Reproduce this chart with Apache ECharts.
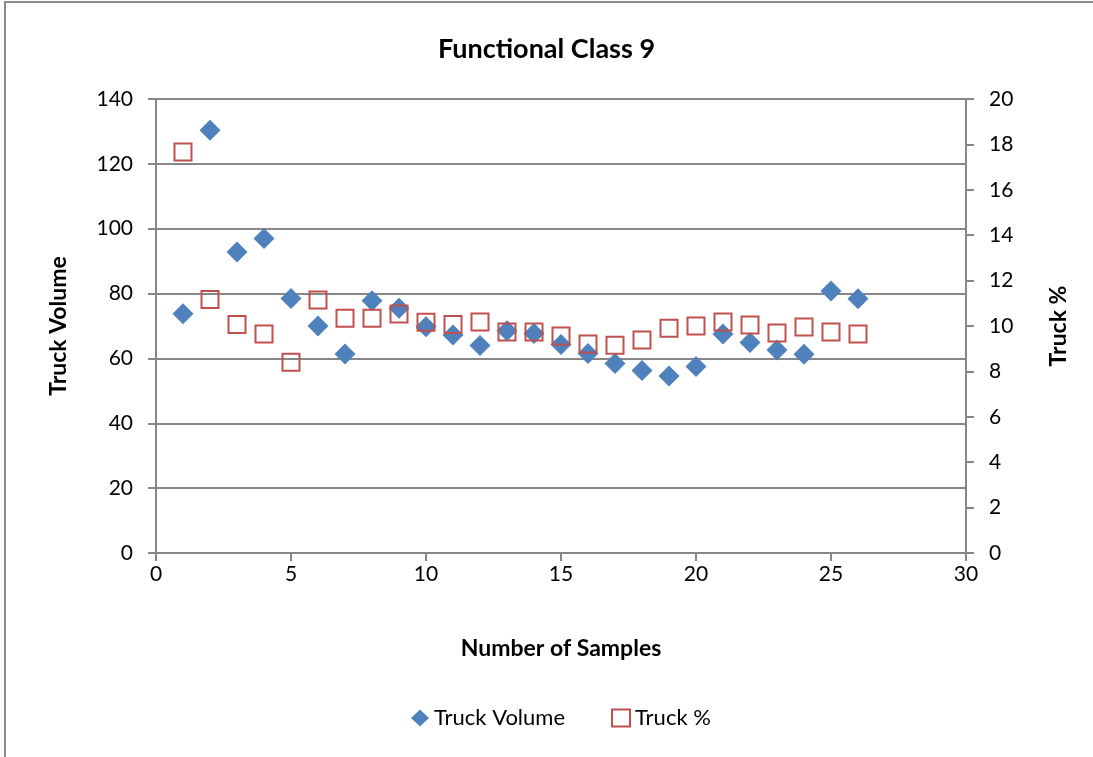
<!DOCTYPE html>
<html>
<head>
<meta charset="utf-8">
<script src="https://cdn.jsdelivr.net/npm/echarts@6/dist/echarts.min.js"></script>
<style>
  html, body { margin: 0; padding: 0; background: #fff; overflow: hidden; }
  #frame { position: absolute; left: 4px; top: 1px; width: 1200px; height: 900px; border: 2px solid #8a8a8a; box-sizing: border-box; }
  #chart { position: absolute; left: 0; top: 0; width: 1093px; height: 757px; }
</style>
</head>
<body>
<div id="frame"></div>
<div id="chart"></div>
<script>
// Sample index along the x axis
const samples = [1,2,3,4,5,6,7,8,9,10,11,12,13,14,15,16,17,18,19,20,21,22,23,24,25,26];
// Truck volume (left axis)
const truckVolume = [73.8,130.4,92.8,97.0,78.5,70.0,61.4,77.8,75.5,69.8,67.2,64.0,68.5,67.7,64.3,61.5,58.4,56.3,54.6,57.5,67.5,64.9,62.6,61.3,80.8,78.4];
// Truck share in percent (right axis)
const truckPct = [17.67,11.17,10.07,9.65,8.40,11.15,10.34,10.34,10.53,10.16,10.07,10.18,9.74,9.74,9.56,9.21,9.15,9.38,9.90,10.00,10.18,10.04,9.69,9.96,9.74,9.65];

const FONT = 'Lato';
const gridColor = '#878787';

const chart = echarts.init(document.getElementById('chart'), null, { renderer: 'canvas' });
chart.setOption({
  backgroundColor: 'transparent',
  animation: false,
  textStyle: { fontFamily: FONT, color: '#000' },
  title: {
    text: 'Functional Class 9',
    left: 'center',
    top: 31,
    textStyle: { fontFamily: FONT, fontSize: 27, fontWeight: 'bold', color: '#000' }
  },
  grid: { left: 156, right: 127, top: 99, bottom: 204, containLabel: false },
  legend: {
    bottom: 23,
    left: 406,
    itemGap: 46,
    itemWidth: 18,
    itemHeight: 17,
    textStyle: { fontFamily: FONT, fontSize: 22, color: '#000' },
    data: [
      { name: 'Truck Volume', icon: 'diamond' },
      { name: 'Truck %', icon: 'rect' }
    ]
  },
  xAxis: {
    type: 'value',
    min: 0, max: 30, interval: 5,
    name: 'Number of Samples',
    nameLocation: 'middle',
    nameGap: 84,
    nameTextStyle: { fontFamily: FONT, fontSize: 23, fontWeight: 'bold', color: '#000' },
    axisLine: { show: true, onZero: false, lineStyle: { color: gridColor, width: 2 } },
    axisTick: { show: true, inside: false, length: 8, lineStyle: { color: gridColor, width: 2 } },
    axisLabel: { fontFamily: FONT, fontSize: 21, color: '#000', margin: 11 },
    splitLine: { show: false }
  },
  yAxis: [
    {
      type: 'value',
      min: 0, max: 140, interval: 20,
      name: 'Truck Volume',
      nameLocation: 'middle',
      nameRotate: 90,
      nameGap: 86,
      nameTextStyle: { fontFamily: FONT, fontSize: 23, fontWeight: 'bold', color: '#000' },
      axisLine: { show: true, lineStyle: { color: gridColor, width: 2 } },
      axisTick: { show: true, inside: false, length: 8, lineStyle: { color: gridColor, width: 2 } },
      axisLabel: { fontFamily: FONT, fontSize: 21, color: '#000', margin: 23 },
      splitLine: { show: true, lineStyle: { color: gridColor, width: 2 } }
    },
    {
      type: 'value',
      min: 0, max: 20, interval: 2,
      name: 'Truck %',
      nameLocation: 'middle',
      nameRotate: 90,
      nameGap: 81,
      nameTextStyle: { fontFamily: FONT, fontSize: 23, fontWeight: 'bold', color: '#000' },
      position: 'right',
      axisLine: { show: true, lineStyle: { color: gridColor, width: 2 } },
      axisTick: { show: true, inside: false, length: 8, lineStyle: { color: gridColor, width: 2 } },
      axisLabel: { fontFamily: FONT, fontSize: 21, color: '#000', margin: 23 },
      splitLine: { show: false }
    }
  ],
  series: [
    {
      name: 'Truck Volume',
      type: 'scatter',
      yAxisIndex: 0,
      symbol: 'diamond',
      symbolSize: 21,
      itemStyle: { color: '#4f81bd', opacity: 1 },
      data: samples.map((s, i) => [s, truckVolume[i]]),
      z: 2
    },
    {
      name: 'Truck %',
      type: 'scatter',
      yAxisIndex: 1,
      symbol: 'rect',
      symbolSize: 17,
      itemStyle: { color: 'rgba(255,255,255,0)', borderColor: '#c0504d', borderWidth: 2, opacity: 1 },
      data: samples.map((s, i) => [s, truckPct[i]]),
      z: 3
    }
  ]
});
</script>
</body>
</html>
